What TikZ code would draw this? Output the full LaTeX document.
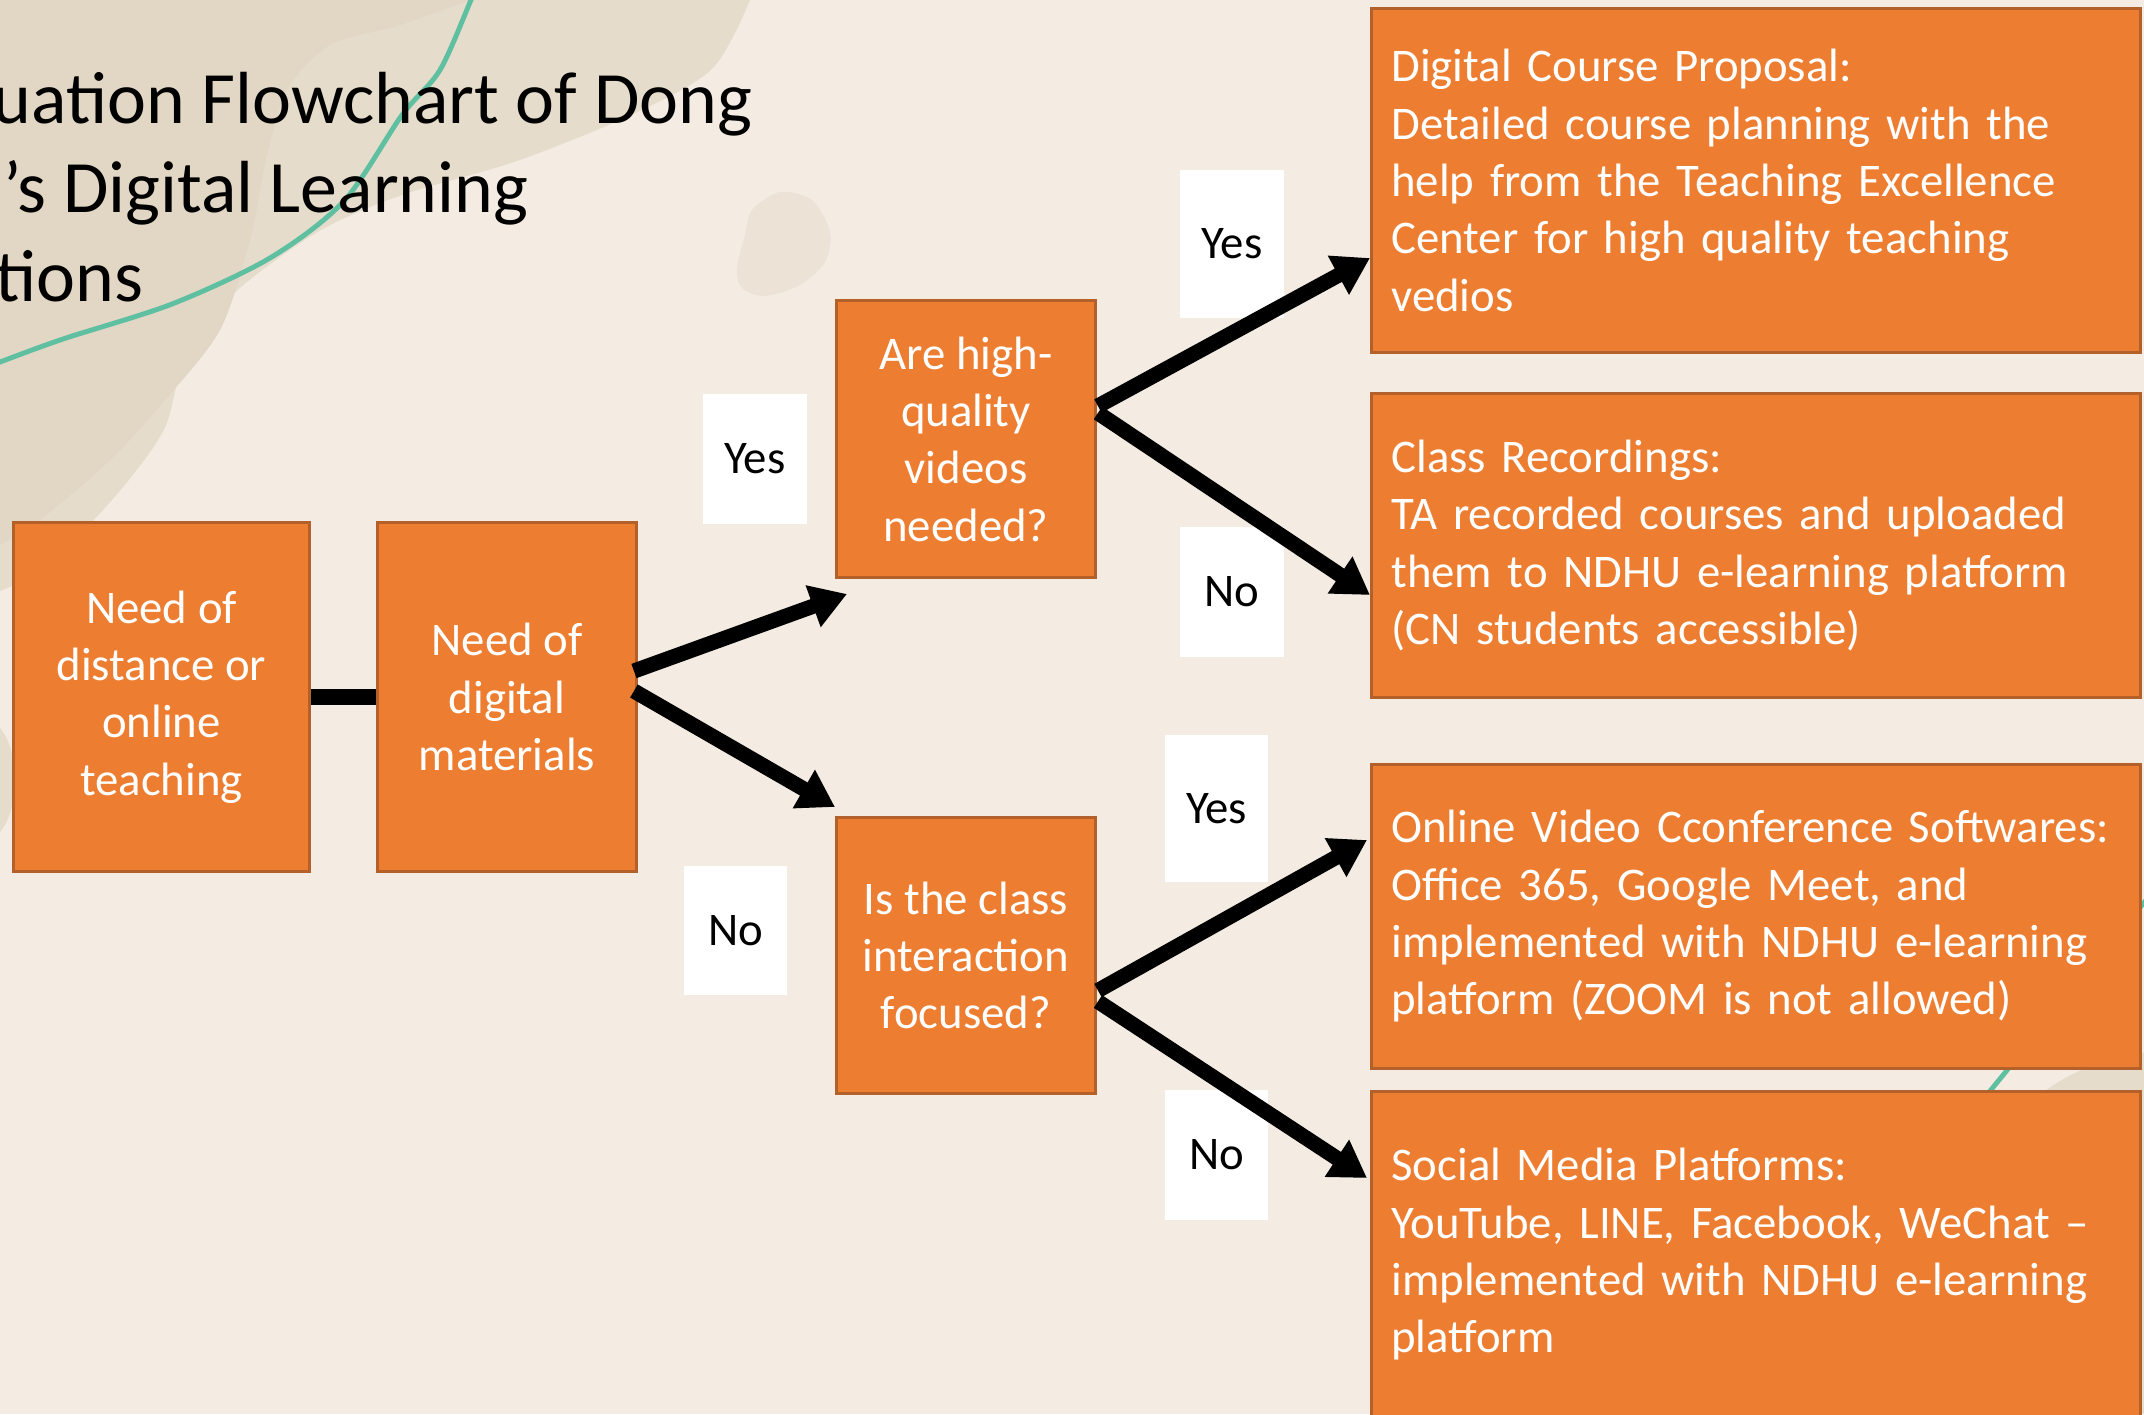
\documentclass[tikz,border=0pt]{standalone}
\usepackage{fontspec}
\setmainfont{Carlito}
\usetikzlibrary{arrows.meta,calc}
\definecolor{bg}{HTML}{F4ECE2}
\definecolor{blobA}{HTML}{E6DCCB}
\definecolor{blobB}{HTML}{E2D7C5}
\definecolor{blobC}{HTML}{ECE2D5}
\definecolor{tealline}{HTML}{5FBFA1}
\definecolor{orfill}{HTML}{ED7D31}
\definecolor{orline}{HTML}{B3602A}
\begin{document}
\begin{tikzpicture}[x=0.01cm,y=-0.01cm,
  boxfont/.style={font=\fontsize{13.3}{16.3}\selectfont},
  obox/.style={draw=orline, line width=0.8pt, fill=orfill, text=white, boxfont, inner sep=0pt, anchor=north west, align=center},
  rbox/.style={draw=orline, line width=0.8pt, fill=orfill, text=white, boxfont, inner xsep=0.2cm, inner ysep=0pt, text width=7.29cm, anchor=north west, align=left},
  lbl/.style={fill=white, text=black, boxfont, inner sep=0pt},
  titletext/.style={font=\fontsize{21}{25.2}\selectfont, text=black, inner sep=0pt, anchor=base east},
  arr/.style={line width=4.3pt, -{Triangle[length=0.36cm,width=0.42cm]}},
  link/.style={line width=4.5pt}
]
\useasboundingbox (0,0) rectangle (2144,1414);
\clip (0,0) rectangle (2144,1414);
\fill[bg] (0,0) rectangle (2144,1414);
% background decorations
\fill[blobA] (-10,-10) -- (752,-10) -- plot[smooth] coordinates {(750,0) (712,69) (631,115) (517,161) (402,195) (321,230) (241,287) (189,344) (166,425) (132,476) (86,528) (34,574) (0,591)} -- (-10,595) -- cycle;
\fill[blobB] (-10,-10) -- (470,-10) -- plot[smooth] coordinates {(470,0) (400,25) (330,45) (287,90) (266,160) (250,240) (220,330) (165,400) (110,460) (40,520) (0,545)} -- (-10,550) -- cycle;
\fill[blobA] (-15,780) ellipse [x radius=30, y radius=60];
\fill[blobC] plot[smooth cycle] coordinates {(752,210) (780,192) (812,200) (830,232) (825,262) (800,285) (765,296) (742,288) (737,268) (745,235)};
\draw[tealline, line width=1.4pt] plot[smooth] coordinates {(476,-10) (471,0) (440,70) (402,115) (344,201) (270,258) (172,304) (63,339) (0,362) (-10,366)};
\fill[blobA] (1930,1414) .. controls (1950,1110) and (2050,1065) .. (2160,1050) -- (2160,1414) -- cycle;
\draw[tealline, line width=1.4pt] (2160,883) -- (1950,1140);
% title
\node[titletext] (t1) at (753,123) {uation Flowchart of Dong};
\node[titletext] (t2) at (529,212) {’s Digital Learning};
\node[titletext] (t3) at (144,301) {tions};
% boxes
\node[obox, minimum width=2.96cm, minimum height=3.49cm] (A) at (12,521) {Need of\\distance or\\online\\teaching};
\node[obox, minimum width=2.59cm, minimum height=3.49cm] (B) at (376,521) {Need of\\digital\\materials};
\node[obox, minimum width=2.59cm, minimum height=2.77cm] (C) at (835,299) {Are high-\\quality\\videos\\needed?};
\node[obox, minimum width=2.59cm, minimum height=2.76cm] (D) at (835,816) {Is the class\\interaction\\focused?};
\node[rbox, minimum height=3.44cm] (E) at (1370,7) {Digital Course Proposal:\\Detailed course planning with the\\help from the Teaching Excellence\\Center for high quality teaching\\vedios};
\node[rbox, minimum height=3.04cm] (F) at (1370,392) {Class Recordings:\\TA recorded courses and uploaded\\them to NDHU e-learning platform\\(CN students accessible)};
\node[rbox, minimum height=3.04cm] (G) at (1370,763) {Online Video Cconference Softwares:\\Office 365, Google Meet, and\\implemented with NDHU e-learning\\platform (ZOOM is not allowed)};
\node[rbox, inner ysep=0.57cm, text depth=3cm] (H) at (1370,1090) {Social Media Platforms:\\YouTube, LINE, Facebook, WeChat --\\implemented with NDHU e-learning\\platform};
% labels
\node[lbl, minimum width=1.04cm, minimum height=1.30cm] (y1) at (755,459) {Yes};
\node[lbl, minimum width=1.03cm, minimum height=1.29cm] (n1) at (735.5,930.5) {No};
\node[lbl, minimum width=1.04cm, minimum height=1.48cm] (y2) at (1232,244) {Yes};
\node[lbl, minimum width=1.04cm, minimum height=1.30cm] (n2) at (1232,592) {No};
\node[lbl, minimum width=1.03cm, minimum height=1.47cm] (y3) at (1216.5,808.5) {Yes};
\node[lbl, minimum width=1.03cm, minimum height=1.30cm] (n3) at (1216.5,1155) {No};
% connectors
\draw[link] (A.east) -- (B.west);
\coordinate (b1) at ($(B.east)+(-4,-26)$);
\coordinate (b2) at ($(B.east)+(-4,-6)$);
\coordinate (tc) at ($(C.south west)+(12,15)$);
\coordinate (td) at ($(D.north west)+(0,-9)$);
\draw[arr] (b1) -- (tc);
\draw[arr] (b2) -- (td);
\coordinate (c1) at ($(C.east)+(1,-33)$);
\coordinate (c2) at ($(C.east)+(1,-26)$);
\coordinate (te) at ($(E.south west)+(0,-96)$);
\coordinate (tf) at ($(F.south west)+(0,-104)$);
\draw[arr] (c1) -- (te);
\draw[arr] (c2) -- (tf);
\coordinate (d1) at ($(D.east)+(1,35)$);
\coordinate (d2) at ($(D.east)+(1,46)$);
\coordinate (tg) at ($(G.north west)+(-3,77)$);
\coordinate (th) at ($(H.north west)+(-3,88)$);
\draw[arr] (d1) -- (tg);
\draw[arr] (d2) -- (th);
\end{tikzpicture}
\end{document}
